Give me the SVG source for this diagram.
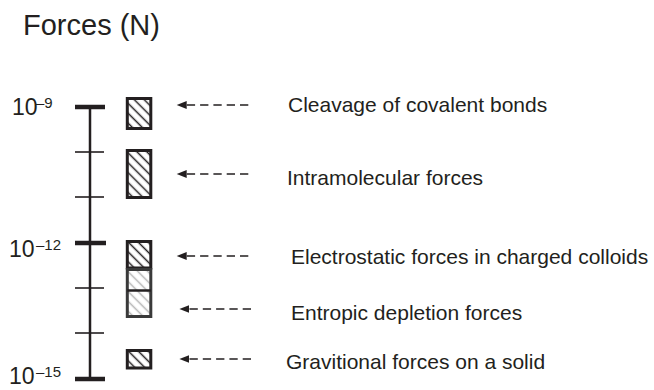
<svg xmlns="http://www.w3.org/2000/svg" width="654" height="390" viewBox="0 0 654 390">
  <style>
    .t { font-family: "Liberation Sans", Arial, Helvetica, sans-serif; fill: #231f20; }
    .title { font-size: 29px; }
    .lbl { font-size: 21px; }
    .exp { font-size: 23px; }
    .sup { font-size: 15px; }
    .axis { stroke: #231f20; stroke-width: 2.5; fill: none; }
    .major { stroke: #231f20; stroke-width: 4.5; }
    .minor { stroke: #231f20; stroke-width: 1.6; }
    .box { stroke: #231f20; stroke-width: 3; fill: url(#hatch); }
    .box-light { stroke: #3a3a3a; stroke-width: 3; fill: url(#hatch-light); }
    .arrow { stroke: #231f20; stroke-width: 1.6; stroke-dasharray: 8.3 5; fill: none; marker-end: url(#head); }
  </style>
  <defs>
    <pattern id="hatch" patternUnits="userSpaceOnUse" width="7" height="7" patternTransform="rotate(-45)">
      <rect width="7" height="7" fill="#fff"/>
      <line x1="3.5" y1="0" x2="3.5" y2="7" stroke="#231f20" stroke-width="1.5"/>
    </pattern>
    <pattern id="hatch-light" patternUnits="userSpaceOnUse" width="7" height="7" patternTransform="rotate(-45)">
      <rect width="7" height="7" fill="#fff"/>
      <line x1="3.5" y1="0" x2="3.5" y2="7" stroke="#b4b4b4" stroke-width="1.5"/>
    </pattern>
    <marker id="head" markerUnits="userSpaceOnUse" markerWidth="12" markerHeight="10" refX="0" refY="5" orient="auto" viewBox="0 0 12 10">
      <path d="M0,1 L10,5 L0,9 z" fill="#231f20"/>
    </marker>
  </defs>

  <text class="t title" x="23" y="35">Forces (N)</text>

  <!-- logarithmic force scale -->
  <g id="scale">
    <line class="axis" x1="90" y1="107" x2="90" y2="379"/>
    <line class="major" x1="75" y1="107" x2="105" y2="107"/>
    <line class="minor" x1="75" y1="152" x2="104" y2="152"/>
    <line class="minor" x1="75" y1="197" x2="104" y2="197"/>
    <line class="major" x1="75" y1="243" x2="106" y2="243"/>
    <line class="minor" x1="75" y1="288" x2="104" y2="288"/>
    <line class="minor" x1="75" y1="333" x2="104" y2="333"/>
    <line class="major" x1="75" y1="379" x2="105" y2="379"/>
    <text class="t exp" x="12" y="115">10</text>
    <text class="t sup" x="36" y="108">–9</text>
    <text class="t exp" x="9" y="257">10</text>
    <text class="t sup" x="36" y="250">–12</text>
    <text class="t exp" x="9" y="384">10</text>
    <text class="t sup" x="36" y="377">–15</text>
  </g>

  <!-- force ranges -->
  <g id="range-covalent"><rect class="box" x="127.3" y="98.5" width="23.5" height="30"/></g>
  <g id="range-intramolecular"><rect class="box" x="127.3" y="150.5" width="23.5" height="47"/></g>
  <g id="range-electrostatic"><rect class="box" x="127.3" y="241.5" width="23.5" height="26.5"/></g>
  <g id="range-entropic">
    <rect class="box-light" x="127.3" y="269.5" width="23.5" height="47"/>
    <line x1="127.3" y1="290.5" x2="150.8" y2="290.5" stroke="#231f20" stroke-width="2.5"/>
  </g>
  <g id="range-gravitational"><rect class="box" x="127.3" y="350.5" width="23.5" height="17.5"/></g>

  <!-- pointers from labels to ranges -->
  <g id="connectors">
    <line class="arrow" x1="248.3" y1="105" x2="186.7" y2="105"/>
    <line class="arrow" x1="248.3" y1="174" x2="186.7" y2="174"/>
    <line class="arrow" x1="248.3" y1="256" x2="186.7" y2="256"/>
    <line class="arrow" x1="251" y1="309" x2="189.4" y2="309"/>
    <line class="arrow" x1="251" y1="359" x2="189.4" y2="359"/>
  </g>

  <g id="label-covalent"><text class="t lbl" x="288" y="112">Cleavage of covalent bonds</text></g>
  <g id="label-intramolecular"><text class="t lbl" x="287" y="185">Intramolecular forces</text></g>
  <g id="label-electrostatic"><text class="t lbl" x="291" y="264">Electrostatic forces in charged colloids</text></g>
  <g id="label-entropic"><text class="t lbl" x="291" y="320">Entropic depletion forces</text></g>
  <g id="label-gravitational"><text class="t lbl" x="286" y="369">Gravitional forces on a solid</text></g>
</svg>
